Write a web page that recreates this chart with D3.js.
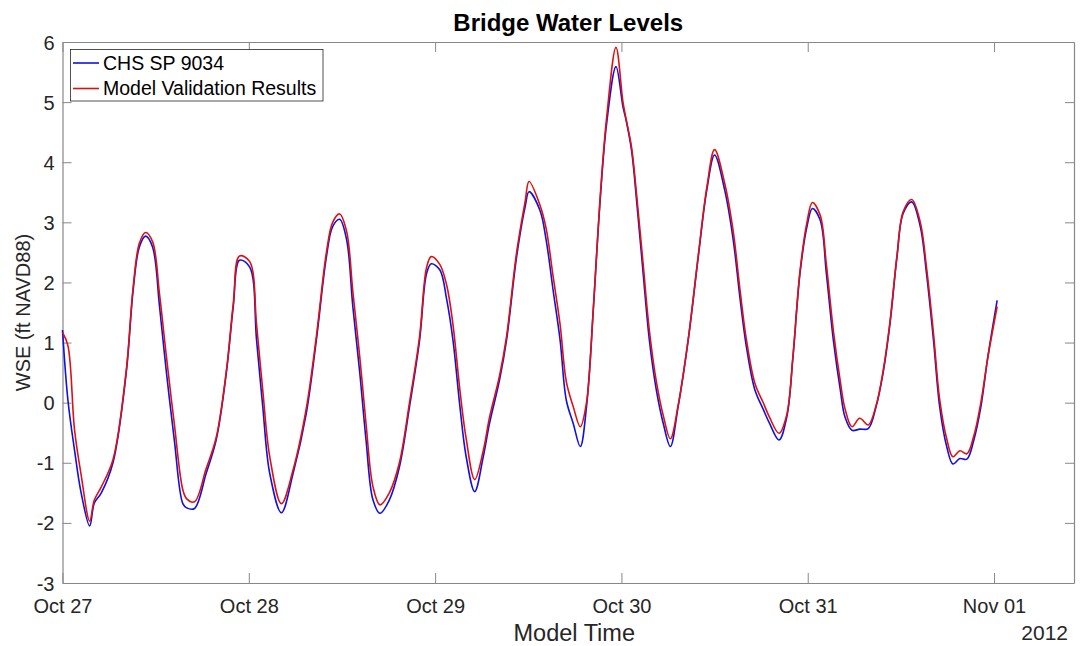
<!DOCTYPE html>
<html>
<head>
<meta charset="utf-8">
<script src="https://cdn.jsdelivr.net/npm/d3@7"></script>
<style>
  html, body { margin: 0; padding: 0; background: #fff; }
  svg { display: block; font-family: "Liberation Sans", Arial, sans-serif; }
</style>
</head>
<body>
<svg id="chart" width="1084" height="646"></svg>
<script>
// ---- data (hours since 2012-10-27 00:00) ----
const hours = [0,0.7,1.55,2.4,3.5,4.1,5.0,6.5,8.2,9.1,9.9,10.7,11.6,12.5,13.4,14.4,15.5,16.0,17.0,18.5,19.8,21.1,22.0,22.8,24.1,25.0,25.8,26.7,28.2,29.7,31.4,32.7,34.0,34.8,35.7,36.6,37.4,38.3,39.1,40.0,40.9,42.1,43.4,44.7,46.0,46.9,47.5,48.6,49.5,50.3,51.2,52.0,53.1,54.2,55.0,56.3,57.2,58.5,59.6,60.1,61.5,62.3,63.2,64.1,64.9,65.8,66.7,67.5,68.4,69.2,70.1,71.3,72.2,72.6,73.3,74.0,74.8,75.6,76.5,77.4,78.3,79.3,80.6,81.9,83.0,84.0,85.3,86.4,87.3,88.1,89.2,90.3,91.1,92.3,93.3,94.1,95.0,95.9,96.6,97.6,98.4,99.3,100.2,100.8,101.7,102.7,103.8,104.8,105.7,106.6,107.5,108.3,109.4,110.5,111.3,112.2,113.0,113.9,114.7,115.6,116.5,117.4,118.3,119.2,120.4];

const chsValues = [1.21,0.04,-0.79,-1.5,-2.05,-1.67,-1.5,-1.0,0.49,1.87,2.59,2.77,2.59,1.6,0.49,-0.62,-1.68,-1.75,-1.76,-1.18,-0.62,0.49,1.6,2.37,2.26,1.04,-0.07,-1.18,-1.83,-1.18,-0.18,1.04,2.43,2.93,3.05,2.71,1.6,0.49,-0.62,-1.62,-1.84,-1.62,-1.07,-0.07,1.04,2.15,2.31,2.21,1.71,1.04,-0.07,-0.9,-1.48,-0.9,-0.35,0.38,1.04,2.43,3.26,3.51,3.2,2.71,1.87,1.04,0.04,-0.35,-0.73,-0.07,1.6,3.26,4.65,5.59,4.92,4.7,4.2,3.3,2.15,1.04,0.21,-0.35,-0.73,-0.07,1.04,2.43,3.54,4.12,3.54,2.71,1.71,0.93,0.21,-0.12,-0.35,-0.62,-0.24,0.76,2.15,2.93,3.23,3.04,2.15,1.04,0.21,-0.24,-0.46,-0.44,-0.43,-0.07,0.49,1.32,2.43,3.15,3.34,2.93,2.15,1.04,-0.07,-0.73,-1.02,-0.93,-0.94,-0.62,-0.07,0.76,1.7];

const modelValues = [1.17,0.95,-0.45,-1.2,-1.97,-1.62,-1.4,-0.95,0.52,1.92,2.65,2.83,2.68,1.8,0.75,-0.35,-1.45,-1.6,-1.65,-1.1,-0.58,0.52,1.65,2.44,2.35,1.3,0.2,-0.9,-1.68,-1.12,-0.1,1.1,2.5,3.0,3.14,2.85,1.85,0.75,-0.35,-1.4,-1.7,-1.5,-1.0,0.0,1.1,2.25,2.43,2.3,1.95,1.3,0.2,-0.6,-1.28,-0.8,-0.25,0.45,1.1,2.5,3.35,3.68,3.29,2.9,2.1,1.3,0.35,-0.07,-0.4,0.0,1.6,3.3,4.75,5.91,5.0,4.72,4.25,3.4,2.3,1.2,0.35,-0.22,-0.6,-0.05,1.05,2.45,3.58,4.21,3.65,2.85,1.85,1.05,0.32,-0.01,-0.25,-0.51,-0.2,0.78,2.18,3.0,3.33,3.12,2.3,1.2,0.35,-0.1,-0.4,-0.26,-0.37,-0.05,0.52,1.35,2.45,3.18,3.38,3.0,2.25,1.15,0.05,-0.6,-0.9,-0.8,-0.85,-0.55,0.0,0.75,1.6];

const seriesNames = ["CHS SP 9034", "Model Validation Results"];
const yTicks = [-3,-2,-1,0,1,2,3,4,5,6];
const titleText = "Bridge Water Levels";
const xLabelText = "Model Time";
const yLabelText = "WSE (ft NAVD88)";
const yearText = "2012";

// ---- layout ----
const svg = d3.select("#chart");
const L = 62.5, T = 42, R = 1074, B = 583;
const t0 = Date.UTC(2012, 9, 27, 0, 0);
const toDate = h => new Date(t0 + h * 3600000);

const x = d3.scaleUtc()
  .domain([toDate(0), toDate(130.3)])
  .range([L, R]);
const y = d3.scaleLinear().domain([-3, 6]).range([B, T]);

const dayTicks = d3.utcDay.range(toDate(0), toDate(121));
const fmt = d3.utcFormat("%b %d");
const textCol = "#262626";
const axisCol = "#888";

// axes
const gx = svg.append("g").attr("transform", `translate(0,${B})`)
  .call(d3.axisBottom(x).tickValues(dayTicks).tickFormat(fmt).tickSizeInner(-10).tickSizeOuter(0).tickPadding(16));
const gxTop = svg.append("g").attr("transform", `translate(0,${T})`)
  .call(d3.axisTop(x).tickValues(dayTicks).tickFormat("").tickSizeInner(-10).tickSizeOuter(0));
const gy = svg.append("g").attr("transform", `translate(${L},0)`)
  .call(d3.axisLeft(y).tickValues(yTicks).tickFormat(d => String(d)).tickSizeInner(-9).tickSizeOuter(0).tickPadding(8));
const gyR = svg.append("g").attr("transform", `translate(${R},0)`)
  .call(d3.axisRight(y).tickValues(yTicks).tickFormat("").tickSizeInner(-9).tickSizeOuter(0));

[gx, gxTop, gy, gyR].forEach(g => {
  g.select(".domain").attr("stroke", axisCol).attr("stroke-width", 1.2);
  g.selectAll(".tick line").attr("stroke", axisCol).attr("stroke-width", 1);
  g.selectAll(".tick text").attr("fill", textCol).style("font-size", "20px")
    .style("font-family", '"Liberation Sans", Arial, sans-serif');
});
gy.selectAll(".tick text").attr("dy", "0.35em");

// lines
const line = d3.line()
  .x((d) => x(toDate(d[0])))
  .y((d) => y(d[1]))
  .curve(d3.curveCatmullRom.alpha(0.5));

const chsData = hours.map((h, i) => [h, chsValues[i]]);
const modelData = hours.map((h, i) => [h, modelValues[i]]);
const colors = ["#1010e0", "#e01010"];

svg.append("path").datum(chsData).attr("d", line)
  .attr("fill", "none").attr("stroke", colors[0]).attr("stroke-width", 1.6);
svg.append("path").datum(modelData).attr("d", line)
  .attr("fill", "none").attr("stroke", colors[1]).attr("stroke-width", 1.6);

// title & labels
svg.append("text").attr("x", (L + R) / 2).attr("y", 31).attr("text-anchor", "middle")
  .attr("fill", "#000").style("font-size", "24px").style("font-weight", "bold").text(titleText);
svg.append("text").attr("x", (L + R) / 2 + 6).attr("y", 641).attr("text-anchor", "middle")
  .attr("fill", textCol).style("font-size", "23.5px").text(xLabelText);
svg.append("text").attr("transform", `translate(30,${(T + B) / 2}) rotate(-90)`)
  .attr("text-anchor", "middle").attr("fill", textCol).style("font-size", "20px").text(yLabelText);
svg.append("text").attr("x", 1068).attr("y", 640).attr("text-anchor", "end")
  .attr("fill", textCol).style("font-size", "21px").text(yearText);

// legend
const lg = svg.append("g");
lg.append("rect").attr("x", 70.5).attr("y", 49.5).attr("width", 252.5).attr("height", 51.5)
  .attr("fill", "#fff").attr("stroke", textCol).attr("stroke-width", 0.8);
seriesNames.forEach((name, i) => {
  const yy = 63 + i * 25.5;
  lg.append("line").attr("x1", 73).attr("x2", 99).attr("y1", yy).attr("y2", yy)
    .attr("stroke", colors[i]).attr("stroke-width", 1.6);
  lg.append("text").attr("x", 103).attr("y", yy).attr("dy", "0.35em")
    .attr("fill", "#000").style("font-size", "19.5px").text(name);
});
</script>
</body>
</html>
